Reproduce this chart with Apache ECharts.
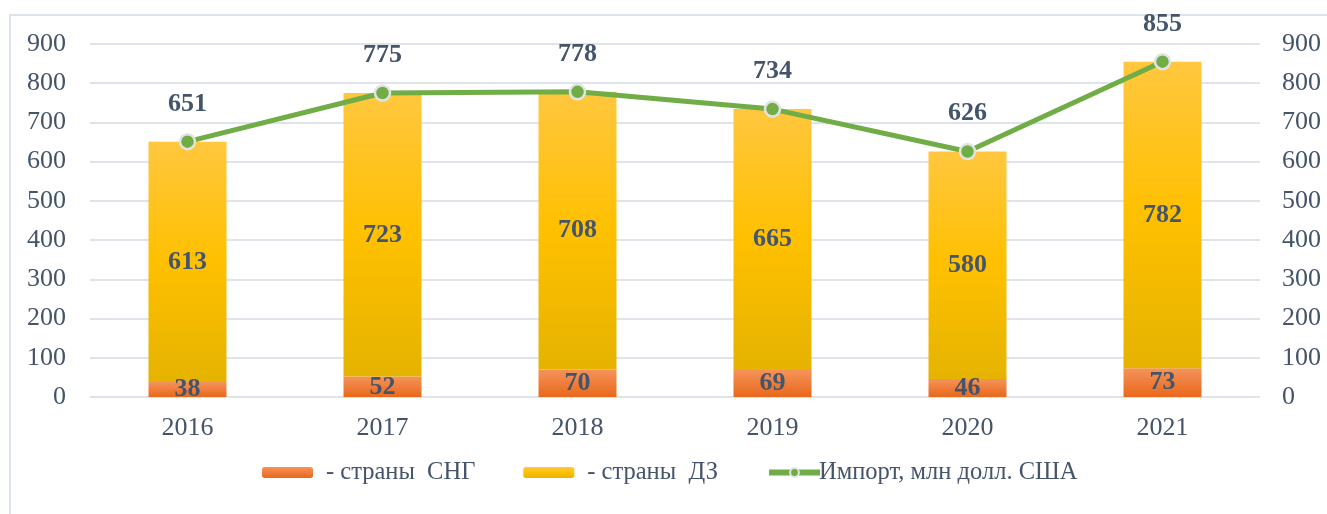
<!DOCTYPE html>
<html>
<head>
<meta charset="utf-8">
<script src="https://cdn.jsdelivr.net/npm/echarts@6/dist/echarts.min.js"></script>
<style>
  html, body { margin: 0; padding: 0; background: #fff; }
  #chart { width: 1327px; height: 514px; }
</style>
</head>
<body>
<div id="chart"></div>
<script>
// данные
const years = ['2016', '2017', '2018', '2019', '2020', '2021']
const cis = [38, 52, 70, 69, 46, 73]
const farAbroad = [613, 723, 708, 665, 580, 782]
const importTotal = [651, 775, 778, 734, 626, 855]

const textColor = '#44546a'
const font = '"Liberation Serif", "Times New Roman", serif'

const chart = echarts.init(document.getElementById('chart'))

const dataLabel = {
  show: true,
  color: textColor,
  fontFamily: font,
  fontWeight: 'bold',
  fontSize: 26
}

const yAxisBase = {
  type: 'value',
  min: 0,
  max: 900,
  interval: 100,
  axisLine: { show: false },
  axisTick: { show: false },
  axisLabel: { color: textColor, fontFamily: font, fontSize: 26 },
  splitLine: { lineStyle: { color: '#dfe3ea', width: 2 } }
}

chart.setOption({
  animation: false,
  graphic: [{
    type: 'rect',
    shape: { x: 10, y: 15, width: 1340, height: 520 },
    style: { fill: 'none', stroke: '#dde3ec', lineWidth: 2 },
    silent: true
  }],
  grid: { left: 90, right: 67, top: 44, bottom: 117 },
  legend: {
    top: 455,
    left: 257,
    itemWidth: 51,
    itemHeight: 11,
    itemGap: 48,
    textStyle: { color: textColor, fontFamily: font, fontSize: 24.5, padding: [0, 0, 0, 8] },
    data: [
      { name: '- страны  СНГ' },
      { name: '- страны  ДЗ' },
      {
        name: 'Импорт, млн долл. США',
        lineStyle: { width: 6 },
        textStyle: { padding: [0, 0, 0, -6] }
      }
    ]
  },
  xAxis: {
    type: 'category',
    data: years,
    axisLine: { show: false },
    axisTick: { show: false },
    axisLabel: { color: textColor, fontFamily: font, fontSize: 26, margin: 18 }
  },
  yAxis: [
    { ...yAxisBase, axisLabel: { ...yAxisBase.axisLabel, margin: 24 } },
    { ...yAxisBase, position: 'right', axisLabel: { ...yAxisBase.axisLabel, margin: 22 }, splitLine: { show: false } }
  ],
  series: [
    {
      name: '- страны  СНГ',
      type: 'bar',
      stack: 'total',
      barWidth: '40%',
      data: cis,
      itemStyle: {
        color: new echarts.graphic.LinearGradient(0, 0, 0, 1, [
          { offset: 0, color: '#f5935a' },
          { offset: 1, color: '#e9681b' }
        ])
      },
      label: { ...dataLabel, position: 'inside' }
    },
    {
      name: '- страны  ДЗ',
      type: 'bar',
      stack: 'total',
      data: farAbroad,
      itemStyle: {
        color: new echarts.graphic.LinearGradient(0, 0, 0, 1, [
          { offset: 0, color: '#ffc73f' },
          { offset: 0.5, color: '#ffc000' },
          { offset: 1, color: '#e5b300' }
        ])
      },
      label: { ...dataLabel, position: 'inside' }
    },
    {
      name: 'Импорт, млн долл. США',
      type: 'line',
      data: importTotal,
      symbol: 'circle',
      symbolSize: 15,
      lineStyle: { color: '#70ad47', width: 5 },
      itemStyle: { color: '#70ad47', borderColor: '#e3e3e3', borderWidth: 2.5 },
      label: { ...dataLabel, position: 'top', distance: 16 },
      z: 5
    }
  ]
})
</script>
</body>
</html>
